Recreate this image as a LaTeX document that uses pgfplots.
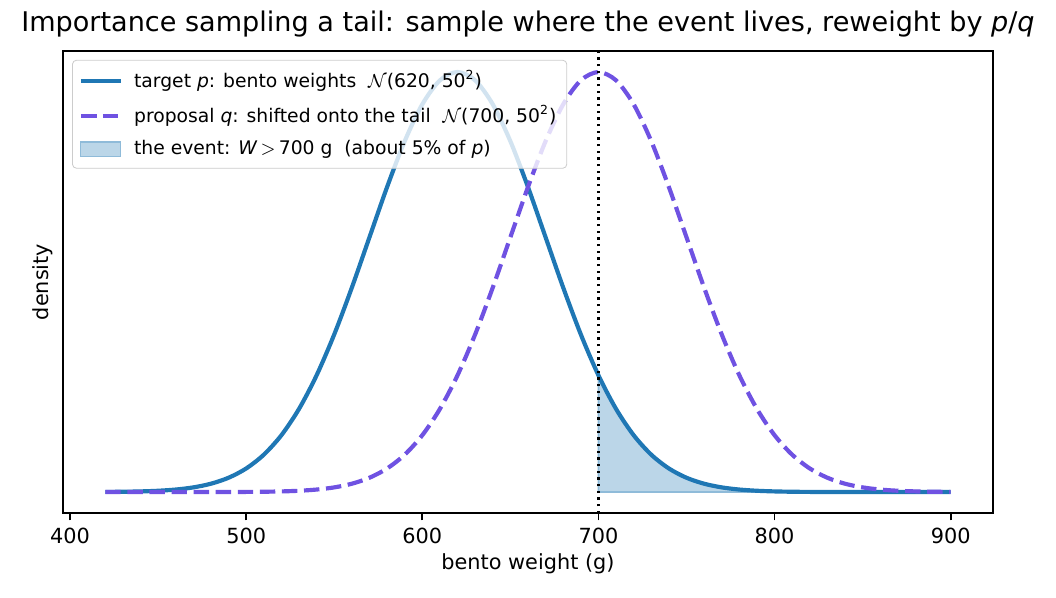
\documentclass[border=0pt]{standalone}
\usepackage{fontspec}
\setmainfont{DejaVu Sans}
\usepackage{pgfplots}
\usepackage{pgfplotstable}
\pgfplotsset{compat=1.18}

\definecolor{tabblue}{HTML}{1F77B4}
\definecolor{propviolet}{HTML}{6F52E2}

% densities scaled by 1000 (the y axis carries no numbers)
% target p: N(620, 50^2)
\pgfplotstableread{
x y
420 0.0027
430 0.0058
440 0.0122
450 0.0246
460 0.0477
470 0.0886
480 0.1583
490 0.2717
500 0.4479
510 0.7095
520 1.0798
530 1.5790
540 2.2184
550 2.9945
560 3.8837
570 4.8394
580 5.7937
590 6.6645
600 7.3654
610 7.8208
620 7.9788
630 7.8208
640 7.3654
650 6.6645
660 5.7937
670 4.8394
680 3.8837
690 2.9945
700 2.2184
710 1.5790
720 1.0798
730 0.7095
740 0.4479
750 0.2717
760 0.1583
770 0.0886
780 0.0477
790 0.0246
800 0.0122
810 0.0058
820 0.0027
830 0.0012
840 0.0005
850 0.0002
860 0.0001
870 0.0000
880 0.0000
890 0.0000
900 0.0000
}\targetdata

\begin{document}
\begin{tikzpicture}
\useasboundingbox (-30.24pt,-40.32pt) rectangle (476.66pt,246.28pt);
\begin{axis}[
  at={(0pt,0pt)}, anchor=south west,
  scale only axis,
  width=446.4pt, height=221.8pt,
  xmin=396, xmax=924,
  ymin=-0.399, ymax=8.378,
  xtick={400,500,...,900},
  ytick=\empty,
  xtick pos=bottom,
  tick align=outside,
  major tick length=3.5pt,
  tick style={black, line width=0.8pt},
  axis line style={line width=0.8pt},
  /pgf/number format/assume math mode=true,
  /pgf/number format/1000 sep={},
  ticklabel style={font=\fontsize{10}{12}\selectfont},
  xlabel={bento weight (g)},
  ylabel={density},
  label style={font=\fontsize{10}{12}\selectfont},
  xlabel style={yshift=2pt},
  ylabel style={yshift=-2pt},
  title={Importance sampling a tail: sample where the event lives, reweight by \textit{p}/\textit{q}},
  title style={font=\fontsize{13}{15}\selectfont, yshift=-3pt},
  legend style={
    at={(0.0097,0.981)}, anchor=north west,
    font=\fontsize{9}{11}\selectfont,
    draw=black!20, rounded corners=2pt,
    fill=white, fill opacity=0.8, text opacity=1,
    row sep=3pt, inner sep=3pt,
    /tikz/every odd column/.append style={column sep=3.4pt},
  },
  legend image code/.code={
    \draw[mark repeat=2, mark phase=2] plot coordinates {(0pt,0pt) (9.6pt,0pt) (19.2pt,0pt)};
  },
  legend cell align=left,
]
% shaded tail W > 700 under p
\addplot[forget plot, draw=tabblue!50, line width=0.8pt, fill=tabblue, fill opacity=0.3]
  coordinates {(700,0) (700,2.2184) (710,1.5790) (720,1.0798) (730,0.7095) (740,0.4479)
  (750,0.2717) (760,0.1583) (770,0.0886) (780,0.0477) (790,0.0246) (800,0.0122)
  (810,0.0058) (820,0.0027) (830,0.0012) (840,0.0005) (850,0.0002) (860,0.0001)
  (870,0) (880,0) (890,0) (900,0)} -- cycle;

% target density p
\addplot[tabblue, line width=2pt, smooth] table[x=x, y=y] {\targetdata};

% proposal density q: N(700, 50^2)
\addplot[propviolet, line width=2pt, smooth, dash pattern=on 7.4pt off 3.2pt] coordinates {
(420,0.0000) (430,0.0000) (440,0.0000) (450,0.0000) (460,0.0001) (470,0.0002)
(480,0.0005) (490,0.0012) (500,0.0027) (510,0.0058) (520,0.0122) (530,0.0246)
(540,0.0477) (550,0.0886) (560,0.1583) (570,0.2717) (580,0.4479) (590,0.7095)
(600,1.0798) (610,1.5790) (620,2.2184) (630,2.9945) (640,3.8837) (650,4.8394)
(660,5.7937) (670,6.6645) (680,7.3654) (690,7.8208) (700,7.9788) (710,7.8208)
(720,7.3654) (730,6.6645) (740,5.7937) (750,4.8394) (760,3.8837) (770,2.9945)
(780,2.2184) (790,1.5790) (800,1.0798) (810,0.7095) (820,0.4479) (830,0.2717)
(840,0.1583) (850,0.0886) (860,0.0477) (870,0.0246) (880,0.0122) (890,0.0058)
(900,0.0027)};

% threshold
\draw[black, line width=1.2pt, dash pattern=on 1.2pt off 2pt]
  (axis cs:700,-0.399) -- (axis cs:700,8.378);

\addlegendimage{legend image code/.code={
  \draw[sharp corners, draw=tabblue!50, line width=0.6pt, fill=tabblue, fill opacity=0.3]
    (0pt,-3.4pt) rectangle (19.2pt,3.4pt);}}
\legend{{target \textit{p}: bento weights\ \ $\mathcal{N}$(620, 50\textsuperscript{2})},
  {proposal \textit{q}: shifted onto the tail\ \ $\mathcal{N}$(700, 50\textsuperscript{2})},
  {the event: \textit{W}\,$>$\,700 g\ \ (about 5\% of \textit{p})}}
\end{axis}
\end{tikzpicture}
\end{document}
